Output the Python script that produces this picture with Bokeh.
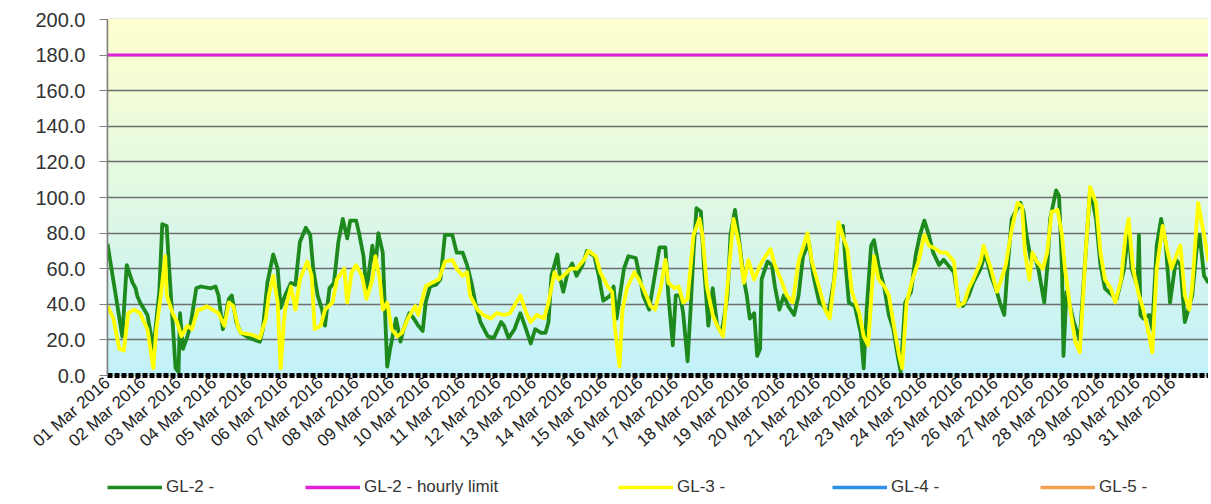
import numpy as np
from bokeh.plotting import figure
from bokeh.layouts import column
from bokeh.models import Legend, LegendItem, FixedTicker, NumeralTickFormatter, Range1d
from bokeh.embed import file_html
from bokeh.resources import INLINE

# ---- data (hours since 01 Mar 2016 00:00, value) ----
day_labels = ["01 Mar 2016", "02 Mar 2016", "03 Mar 2016", "04 Mar 2016", "05 Mar 2016",
              "06 Mar 2016", "07 Mar 2016", "08 Mar 2016", "09 Mar 2016", "10 Mar 2016",
              "11 Mar 2016", "12 Mar 2016", "13 Mar 2016", "14 Mar 2016", "15 Mar 2016",
              "16 Mar 2016", "17 Mar 2016", "18 Mar 2016", "19 Mar 2016", "20 Mar 2016",
              "21 Mar 2016", "22 Mar 2016", "23 Mar 2016", "24 Mar 2016", "25 Mar 2016",
              "26 Mar 2016", "27 Mar 2016", "28 Mar 2016", "29 Mar 2016", "30 Mar 2016",
              "31 Mar 2016"]
y_ticks = [0, 20, 40, 60, 80, 100, 120, 140, 160, 180, 200]

gl2_hours = [0, 10, 13, 17, 19, 20, 22, 27, 31, 35, 37, 40, 41, 46, 48, 49, 51, 54, 56, 60,
             63, 70, 73, 75, 78, 82, 84, 87, 90, 96, 103, 105, 108, 112, 115, 117,
             120, 124, 127, 130, 134, 137, 139, 142, 145, 147, 150, 153, 156, 159, 162, 164,
             168, 170, 173, 175, 179, 181, 183, 186, 188, 189, 191, 195, 198, 200, 204, 207,
             210, 213, 215, 218, 222, 225, 228, 233, 236, 240, 243, 246,
             249, 252, 257, 261, 266, 268, 271, 275, 279, 282, 286, 289, 293, 296, 298, 300,
             304, 306, 308, 311, 314, 317, 321, 324, 329, 332, 335, 340, 342, 344, 349, 352,
             357, 360, 362, 366, 369, 373,
             377, 379, 382, 384, 387, 389, 392, 394, 396, 398, 401, 403, 406, 409, 412, 415,
             419, 421, 424, 427, 430, 432, 434, 437, 439, 441, 442, 446, 449, 451, 454, 457,
             460, 464, 467, 470, 474, 477, 481, 484, 487, 491, 494,
             497, 499, 501, 505, 509, 511, 513, 516, 518, 521, 525, 528, 531, 534, 536, 539,
             543, 546, 549, 552, 555, 558, 562, 565, 568, 572, 575, 578, 582, 585, 590, 593,
             597, 601, 603, 606, 608, 611, 617, 619,
             621, 624, 627, 629, 633, 635, 637, 641, 643, 645, 646, 648, 651, 653, 657, 661,
             664, 668, 671, 674, 679, 682, 687, 690, 692, 696, 697, 698, 700, 704, 706, 709,
             712, 715, 718, 722, 725, 728, 733, 736, 738, 741, 744]
gl2_vals = [74, 22, 62, 52, 49, 45, 41, 34, 15, 47, 85, 84, 69, 4, 2, 35, 15, 22, 28, 49,
            50, 49, 50, 45, 26, 43, 45, 30, 24, 21, 19, 26, 52, 68, 60, 38,
            45, 52, 51, 75, 83, 79, 60, 45, 37, 28, 49, 52, 75, 88, 77, 87,
            87, 80, 67, 47, 73, 60, 80, 69, 26, 5, 15, 32, 19, 26, 35, 32,
            28, 25, 41, 50, 51, 54, 79, 79, 69, 69, 62, 52,
            39, 30, 22, 21, 30, 28, 21, 26, 35, 28, 18, 26, 24, 24, 30, 56,
            68, 54, 47, 58, 63, 56, 62, 70, 67, 56, 42, 45, 50, 32, 60, 67,
            66, 54, 45, 37, 52, 72,
            72, 45, 17, 45, 45, 35, 8, 37, 69, 94, 92, 62, 28, 49, 28, 24,
            45, 79, 93, 75, 54, 45, 32, 35, 11, 15, 54, 64, 62, 50, 37, 45,
            39, 34, 45, 67, 75, 56, 41, 39, 34, 54, 82,
            84, 60, 41, 39, 24, 4, 37, 73, 76, 62, 49, 34, 26, 11, 2, 41,
            47, 67, 79, 87, 79, 69, 62, 65, 62, 58, 41, 39, 45, 52, 60, 69,
            56, 47, 41, 34, 58, 88, 97, 92,
            79, 65, 66, 60, 41, 60, 88, 104, 101, 60, 11, 47, 37, 30, 20, 69,
            105, 88, 62, 49, 45, 43, 60, 82, 60, 50, 79, 34, 32, 34, 26, 73,
            88, 75, 41, 65, 62, 30, 45, 71, 79, 56, 52]

gl3_hours = [0, 4, 8, 11, 14, 18, 22, 27, 31, 33, 36, 39, 40, 44, 47, 50, 54, 57, 61, 63,
             67, 71, 75, 79, 82, 85, 88, 90, 97, 103, 107, 109, 112, 115, 117, 119,
             120, 124, 127, 130, 135, 138, 140, 144, 147, 152, 155, 160, 162, 165, 168, 172,
             175, 179, 181, 184, 186, 189, 192, 196, 199, 203, 208, 210, 215, 219, 224, 228,
             233, 236, 240, 243,
             245, 250, 254, 259, 263, 268, 272, 279, 283, 286, 290, 295, 298, 302, 305, 308,
             313, 317, 322, 325, 330, 333, 338, 341, 343, 346, 348, 351, 356, 359, 362, 367,
             370, 374,
             377, 379, 383, 386, 389, 392, 396, 400, 402, 405, 409, 412, 416, 420, 423, 427,
             430, 433, 437, 440, 443, 448, 451, 455, 459, 463, 467, 473, 476, 481, 485, 488,
             492, 494,
             497, 500, 503, 508, 511, 514, 518, 521, 525, 528, 531, 535, 537, 540, 544, 548,
             552, 555, 560, 563, 567, 572, 575, 579, 582, 585, 590, 592, 597, 601, 604, 607,
             611, 615, 618,
             620, 623, 625, 628, 632, 635, 638, 642, 645, 647, 651, 654, 657, 661, 664, 668,
             671, 674, 678, 681, 685, 688, 690, 693, 697, 700, 704, 706, 709, 713, 716, 719,
             723, 725, 728, 731, 733, 737, 741, 744]
gl3_vals = [39, 32, 15, 14, 35, 37, 35, 26, 4, 26, 45, 67, 45, 35, 30, 22, 28, 26, 37, 37,
            39, 37, 35, 28, 41, 39, 28, 24, 23, 21, 32, 45, 56, 41, 4, 28,
            37, 50, 37, 54, 64, 56, 26, 28, 37, 41, 54, 60, 41, 58, 62, 56,
            43, 54, 67, 54, 37, 41, 26, 22, 24, 32, 39, 34, 50, 52, 54, 64,
            65, 60, 56, 58,
            45, 37, 34, 32, 35, 34, 35, 45, 35, 30, 34, 32, 41, 58, 54, 56,
            60, 60, 65, 70, 67, 58, 50, 47, 26, 5, 37, 49, 58, 54, 49, 39,
            37, 50,
            65, 52, 49, 50, 41, 43, 79, 88, 79, 50, 34, 28, 22, 60, 88, 73,
            52, 65, 54, 60, 65, 71, 62, 54, 45, 41, 64, 80, 64, 49, 37, 32,
            60, 86,
            78, 71, 47, 35, 22, 17, 67, 54, 50, 45, 30, 11, 4, 41, 54, 64,
            79, 73, 71, 69, 69, 64, 39, 41, 49, 54, 64, 73, 60, 47, 54, 62,
            82, 97, 95,
            69, 54, 69, 64, 60, 69, 92, 93, 79, 60, 35, 19, 13, 69, 106, 97,
            69, 54, 49, 41, 54, 79, 88, 60, 45, 37, 22, 13, 60, 84, 71, 60,
            69, 73, 45, 37, 50, 97, 79, 64]

limit_hours = [0, 744]
limit_vals = [180, 180]

# GL-4 and GL-5 have no readings in the period
gl4_hours = [0]
gl4_vals = [float("nan")]
gl5_hours = [0]
gl5_vals = [float("nan")]

series_labels = ["GL-2 -", "GL-2 - hourly limit", "GL-3 -", "GL-4 -", "GL-5 -"]
series_colors = ["#1E8A1E", "#E020D8", "#FFFF00", "#2E8FE6", "#F5A050"]

# ---- main figure ----
p = figure(width=1208, height=470, output_backend="svg", toolbar_location=None,
           x_range=Range1d(0, 744), y_range=Range1d(0, 200),
           min_border_left=107, min_border_right=0, min_border_top=19, min_border_bottom=95)
p.background_fill_color = "white"
p.border_fill_color = "white"
p.outline_line_color = "#A8A8A8"
p.outline_line_width = 1.5

# gradient background (yellow top -> cyan bottom)
n = 100
bots = np.linspace(0, 200, n, endpoint=False)
c_bot = np.array([194, 242, 250])
c_top = np.array([255, 255, 206])
cols = []
for b in bots:
    t = (b + 1) / 200.0
    c = (c_bot * (1 - t) + c_top * t).astype(int)
    cols.append("#%02x%02x%02x" % tuple(c))
p.quad(left=0, right=744, bottom=bots, top=200, fill_color=cols, line_color=None, level="image")

# grid
p.xgrid.grid_line_color = None
p.ygrid.grid_line_color = "#6E6E6E"
p.ygrid.grid_line_width = 1.6
p.ygrid.ticker = FixedTicker(ticks=y_ticks)

# y axis
p.yaxis.ticker = FixedTicker(ticks=y_ticks)
p.yaxis.formatter = NumeralTickFormatter(format="0.0")
p.yaxis.axis_line_color = "#808080"
p.yaxis.axis_line_width = 1.5
p.yaxis.major_tick_line_color = "#808080"
p.yaxis.major_tick_out = 8
p.yaxis.major_tick_in = 0
p.yaxis.minor_tick_line_color = None
p.yaxis.major_label_standoff = 14
p.yaxis.major_label_text_font = "Liberation Sans"
p.yaxis.major_label_text_font_size = "20px"
p.yaxis.major_label_text_color = "#333333"

# x axis
day_ticks = [24 * i for i in range(len(day_labels))]
p.xaxis.ticker = FixedTicker(ticks=day_ticks)
p.xaxis.major_label_overrides = {t: lab for t, lab in zip(day_ticks, day_labels)}
p.xaxis.major_label_orientation = 0.72
p.xaxis.major_label_text_font = "Liberation Sans"
p.xaxis.major_label_text_font_size = "17px"
p.xaxis.major_label_text_color = "#222222"
p.xaxis.major_label_standoff = 5
p.xaxis.axis_line_color = "black"
p.xaxis.axis_line_width = 5
p.xaxis.axis_line_dash = "5 2"
p.xaxis.major_tick_line_color = None
p.xaxis.major_tick_out = 0
p.xaxis.minor_tick_line_color = None

# series
p.line(gl2_hours, gl2_vals, line_color=series_colors[0], line_width=3.8, line_join="round")
p.line(limit_hours, limit_vals, line_color=series_colors[1], line_width=3)
p.line(gl3_hours, gl3_vals, line_color=series_colors[2], line_width=3.8, line_join="round")
p.line(gl4_hours, gl4_vals, line_color=series_colors[3], line_width=3.5)
p.line(gl5_hours, gl5_vals, line_color=series_colors[4], line_width=3.5)

# ---- legend strip below (its frame is aligned with the main frame at x=107) ----
lf = figure(width=1208, height=33, output_backend="svg", toolbar_location=None,
            x_axis_type=None, y_axis_type=None, x_range=Range1d(0, 1), y_range=Range1d(0, 1),
            min_border_left=0, min_border_right=0, min_border_top=0, min_border_bottom=0)
lf.grid.visible = False
lf.outline_line_color = None
lf.background_fill_color = "white"
lf.border_fill_color = "white"

legend_x = [0, 198, 511, 725, 933]   # px offsets of each entry from the strip's frame edge
for lab, colr, lx in zip(series_labels, series_colors, legend_x):
    r = lf.line([0], [float("nan")], line_color=colr, line_width=3.5)
    lg = Legend(items=[LegendItem(label=lab, renderers=[r])], location=(lx, 6))
    lg.label_text_font = "Liberation Sans"
    lg.label_text_font_size = "17px"
    lg.label_text_color = "#333333"
    lg.label_height = 18
    lg.glyph_height = 18
    lg.glyph_width = 55
    lg.label_standoff = 4
    lg.padding = 0
    lg.margin = 0
    lg.border_line_color = None
    lg.background_fill_alpha = 0
    lf.add_layout(lg)

layout = column(p, lf, spacing=0)
open("out.html", "w").write(file_html(layout, INLINE))
